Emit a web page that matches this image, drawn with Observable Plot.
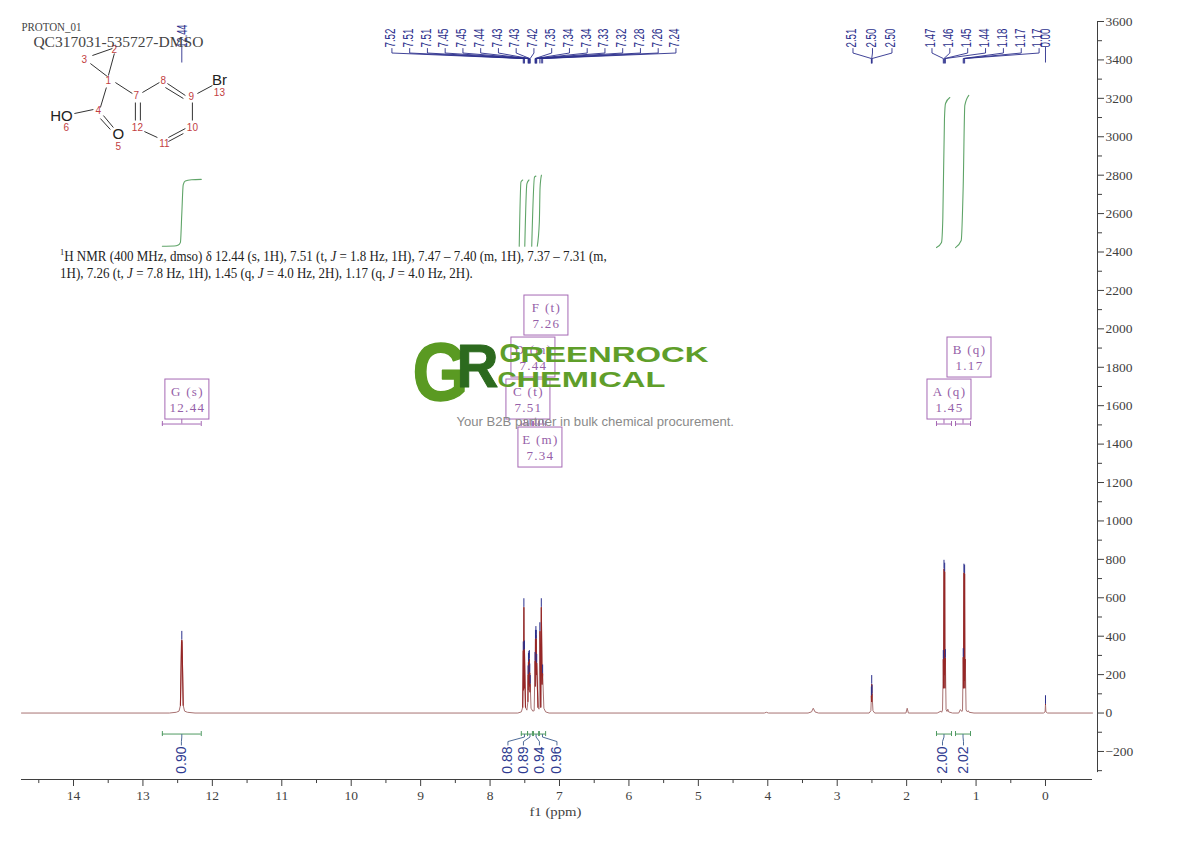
<!DOCTYPE html>
<html><head><meta charset="utf-8">
<script src="https://cdn.jsdelivr.net/npm/d3@7"></script>
<script src="https://cdn.jsdelivr.net/npm/@observablehq/plot@0.6"></script>
<style>
html,body{margin:0;padding:0;background:#fff}
#wrap{position:relative;width:1190px;height:841px;overflow:hidden}
#assign{position:absolute;left:60px;top:248px;font:14px/17px "Liberation Serif",serif;color:#222;white-space:nowrap;transform:scaleX(.928);transform-origin:left top}
#assign sup{font-size:9px;line-height:0}
</style></head><body>
<div id="wrap"><div id="assign"><sup>1</sup>H NMR (400 MHz, dmso) δ 12.44 (s, 1H), 7.51 (t, <i>J</i> = 1.8 Hz, 1H), 7.47 – 7.40 (m, 1H), 7.37 – 7.31 (m,<br>1H), 7.26 (t, <i>J</i> = 7.8 Hz, 1H), 1.45 (q, <i>J</i> = 4.0 Hz, 2H), 1.17 (q, <i>J</i> = 4.0 Hz, 2H).</div></div>
<script>
// ---------- data ----------
const specPpm = [14.749,12.62,12.52,12.48,12.46,12.444,12.44,12.436,12.42,12.40,12.36,12.25,
  7.60,7.55,7.53,7.522,7.518,7.513,7.509,7.505,7.49,7.47,7.455,7.452,7.45,7.447,7.444,7.441,7.438,7.434,7.431,7.428,7.425,7.422,7.41,7.385,
  7.365,7.352,7.349,7.346,7.343,7.34,7.337,7.334,7.331,7.328,7.31,7.295,7.283,7.278,7.27,7.262,7.25,7.243,7.225,7.20,7.15,
  4.05,4.02,3.99,3.42,3.37,3.345,3.32,3.27,
  2.54,2.515,2.508,2.505,2.503,2.501,2.498,2.485,2.46,2.01,1.992,1.975,
  1.56,1.505,1.495,1.483,1.472,1.468,1.462,1.456,1.452,1.448,1.442,1.432,1.418,1.407,1.395,1.34,
  1.25,1.226,1.205,1.195,1.185,1.181,1.175,1.171,1.165,1.161,1.155,1.144,1.125,1.112,1.10,1.03,
  0.03,0.006,0.0,-0.006,-0.03,-0.677];
const specInt = [0,0,4,10,40,370,380,370,40,10,4,0,
  0,6,30,325,120,550,130,330,30,15,60,200,120,265,150,275,170,280,140,210,110,150,25,10,
  12,270,140,385,230,405,240,385,200,260,30,20,425,250,30,550,150,205,25,6,0,
  0,4,0,0,6,25,6,0,
  0,12,90,60,150,60,100,12,0,0,25,0,
  0,10,4,16,280,130,750,200,735,130,285,18,8,20,6,0,
  0,18,8,16,290,130,730,170,725,130,280,16,6,12,4,0,
  0,6,45,6,0,0];

const pick1Label = ["7.52","7.51","7.51","7.45","7.45","7.44","7.43","7.43","7.42","7.35","7.34","7.34","7.33","7.32","7.28","7.26","7.24"];
const pick1Ppm   = [7.522,7.513,7.505,7.452,7.447,7.441,7.434,7.428,7.422,7.352,7.346,7.34,7.334,7.328,7.283,7.262,7.243];
const pick1Int   = [325,550,330,200,265,275,280,210,150,270,385,405,385,260,425,550,205];
const pick2Label = ["2.51","2.50","2.50"];
const pick2Ppm   = [2.508,2.503,2.498];
const pick2Int   = [90,150,100];
const pick3Label = ["1.47","1.46","1.45","1.44","1.18","1.17","1.17"];
const pick3Ppm   = [1.472,1.462,1.452,1.442,1.185,1.175,1.165];
const pick3Int   = [280,750,735,285,290,730,725];
const soloLabel  = ["12.44","0.00"];
const soloPpm    = [12.44,0.0];
const soloInt    = [380,45];

const regionStart = [12.72,7.55,7.46,7.375,7.29,1.57,1.296];
const regionEnd   = [12.16,7.46,7.39,7.30,7.20,1.354,1.08];
const regionValue = ["0.90","0.88","0.89","0.94","0.96","2.00","2.02"];

const boxName  = ["G (s)","F (t)","D (m)","C (t)","E (m)","A (q)","B (q)"];
const boxShift = ["12.44","7.26","7.44","7.51","7.34","1.45","1.17"];

const integralPpm = [
 [12.72,12.55,12.49,12.46,12.44,12.42,12.39,12.3,12.16],
 [7.58,7.555,7.53],
 [7.50,7.47,7.44],
 [7.40,7.36,7.34],
 [7.32,7.29,7.28,7.26],
 [1.57,1.498,1.479,1.455,1.44,1.378],
 [1.296,1.214,1.185,1.162,1.105]];
const integralVal = [
 [2430,2431,2436,2450,2600,2750,2770,2776,2778],
 [2430,2765,2775],
 [2430,2755,2775],
 [2430,2790,2795],
 [2430,2560,2735,2800],
 [2423,2450,2575,3095,3173,3204],
 [2423,2460,2746,3163,3215]];

const yMajor = d3.range(-200,3601,200);
const yMinor = d3.range(-300,3600,200);
const xMajor = d3.range(0,15,1);
const xMinor = d3.range(0.5,14.6,1);

// ---------- layout helpers: pixel layout -> data units, all marks go through the scales ----------
const ppmAt = px => (1045 - px) / 69.42;
const valAt = py => (712.5 - py) / 0.19209;
const blue = "#2b2f8c", green = "#5fa468", purple = "#a568b4", red = "#962626", ink = "#3f3f3f";

function connectors(ppms, textStart, step){
  return ppms.flatMap((p,i)=>{
    const sx = textStart + i*step + 1.5;
    return [{k:i,x:ppmAt(sx),y:valAt(48)},{k:i,x:ppmAt(sx),y:valAt(52.5)},{k:i,x:p,y:valAt(58)},{k:i,x:p,y:valAt(62.5)}];
  });
}
const conn1 = connectors(pick1Ppm,390,17.75);
const conn2 = connectors(pick2Ppm,851,19.5);
const conn3 = connectors(pick3Ppm,930,17.85);
const topLabels = (labels,start,step)=>labels.map((t,i)=>({t,x:ppmAt(start+i*step)}));
const top4 = [...topLabels(pick1Label,390,17.75),...topLabels(pick2Label,851,19.5),...topLabels(pick3Label,930,17.85),{t:"0.00",x:ppmAt(1045)}];
const allPicks = [...pick1Ppm.map((x,i)=>({x,h:pick1Int[i]})),...pick2Ppm.map((x,i)=>({x,h:pick2Int[i]})),...pick3Ppm.map((x,i)=>({x,h:pick3Int[i]})),...soloPpm.map((x,i)=>({x,h:soloInt[i]}))];

const spectrum = specPpm.map((x,i)=>({x,y:specInt[i]}));
const integrals = integralPpm.flatMap((a,k)=>a.map((x,i)=>({k,x,y:integralVal[k][i]})));
const regions = regionStart.map((a,i)=>({a,b:regionEnd[i],c:(a+regionEnd[i])/2,v:regionValue[i]}));

const slotPx = [181,507.5,523,539,556.5,942,963];
const regConn = regions.flatMap((r,i)=>{
  const s = ppmAt(slotPx[i]);
  return [{k:i,x:r.c,y:valAt(734)},{k:i,x:r.c,y:valAt(736.5)},{k:i,x:s,y:valAt(741)},{k:i,x:s,y:valAt(744.5)}];
});
const regLabels = regions.map((r,i)=>({t:r.v,x:ppmAt(slotPx[i])}));

const boxPx = [[187,399],[546,315],[533,357],[528,399],[540,447],[949,399],[969,357]];
const boxes = boxName.map((n,i)=>({n,s:boxShift[i],cx:boxPx[i][0],cy:boxPx[i][1]}));

// molecule drawing (pixel layout on the page)
const bonds = [[108,75,114,53],[92,55,112,48],[90,63,107,76],[106,87,100,107],[74,113,93,109],[103,115,113,127],[100,118,110,129],
 [115,82,132,93],[142,92,159,82],[167,83,185,95],[165,87,183,98],[192,102,192,120],[185,128,168,137],[183,133,168,141],[157,137,144,131],
 [135,120,135,102],[140,120,140,102],[197,93,212,85]];
const numbers = [["1",108,80],["2",114,49],["3",84,59],["4",98,110],["5",118,146],["6",66,127],["7",136,95],["8",163,80],["9",191,96],["10",192,127],["11",164,143],["12",137,127],["13",219,92]];
const atoms = [["HO",61,116,15],["O",118,134,15],["Br",219,80,15]];

const logo = [
 {t:"G",px:412,py:399.5,size:81,fill:"#5a9a22",len:56,sw:1.5},
 {t:"R",px:456,py:386,size:62,fill:"#2c6a1e",len:42,sw:1},
 {t:"G",px:499,py:361,size:26,fill:"#5f9e2a",len:22,sw:0},
 {t:"REENROCK",px:520,py:361,size:22,fill:"#5f9e2a",len:188,sw:0},
 {t:"C",px:497,py:386,size:22,fill:"#5f9e2a",len:19,sw:0},
 {t:"HEMICAL",px:516,py:386,size:22,fill:"#5f9e2a",len:149,sw:0}
];

const logoMarks = logo.map((d,i)=>Plot.text([d],{x:ppmAt(d.px),y:valAt(d.py),text:"t",fontSize:d.size,fontWeight:"bold",fill:d.fill,
  stroke:d.sw?d.fill:"none",strokeWidth:d.sw,
  fontFamily:"Liberation Sans",textAnchor:"start",lineAnchor:"bottom",className:"logo"+i}));

const chart = Plot.plot({
  width:1190,height:841,
  marginLeft:21,marginRight:93,marginTop:21,marginBottom:62,
  x:{domain:[14.749,-0.677],range:[21,1092]},
  y:{domain:[-346,3600],range:[779,21]},
  style:{fontFamily:"Liberation Serif",background:"transparent",overflow:"visible"},
  marks:[
    // axes
    Plot.ruleY([-346],{x1:14.749,x2:-0.677,stroke:ink,strokeWidth:1}),
    Plot.ruleX([ppmAt(1097)],{y1:-310,y2:3600,stroke:ink,strokeWidth:1}),
    Plot.axisX({ticks:xMajor,anchor:"bottom",label:null,tickSize:7,tickPadding:4,fontSize:13.5,color:ink,tickFormat:d=>String(d)}),
    Plot.ruleX(xMinor,{y1:-346,y2:valAt(783),stroke:ink,strokeWidth:1}),
    Plot.axisY({ticks:yMajor,anchor:"right",label:null,tickSize:6,tickPadding:2,fontSize:13.5,color:ink,tickFormat:d=>d<0?"\u2212"+(-d):String(d)}),
    Plot.ruleY(yMinor,{x1:ppmAt(1097),x2:ppmAt(1102),stroke:ink,strokeWidth:1}),
    Plot.text(["f1 (ppm)"],{x:ppmAt(555),y:valAt(811),fontFamily:"Liberation Serif",fontSize:13,fill:ink,className:"flabel"}),

    // spectrum: pale baseline, darker peak bodies
    Plot.line(spectrum,{x:"x",y:"y",stroke:"#a87272",strokeWidth:1}),
    Plot.line(spectrum,{x:"x",y:d=>d.y>=30?d.y:NaN,stroke:red,strokeWidth:1.1}),
    Plot.ruleX(allPicks,{x:"x",y1:"h",y2:d=>d.h+45,stroke:blue,strokeWidth:1}),

    // peak-pick labels
    Plot.line(conn1,{x:"x",y:"y",z:"k",stroke:blue,strokeWidth:0.9}),
    Plot.line(conn2,{x:"x",y:"y",z:"k",stroke:blue,strokeWidth:0.9}),
    Plot.line(conn3,{x:"x",y:"y",z:"k",stroke:blue,strokeWidth:0.9}),
    Plot.ruleX(soloPpm,{y1:valAt(47),y2:valAt(62.5),stroke:blue,strokeWidth:0.9}),
    Plot.text(top4,{x:"x",y:valAt(47),text:"t",rotate:-90,textAnchor:"start",fontFamily:"Liberation Sans",fontSize:15,fill:blue,className:"pk4"}),
    Plot.text([{t:soloLabel[0]}],{x:soloPpm[0],y:valAt(47),text:"t",rotate:-90,textAnchor:"start",fontFamily:"Liberation Sans",fontSize:15,fill:blue,className:"pk5"}),

    // integral curves
    Plot.line(integrals,{x:"x",y:"y",z:"k",stroke:green,strokeWidth:1.1,curve:"monotone-x"}),

    // integral bars below baseline
    Plot.ruleY(regions,{x1:"a",x2:"b",y:valAt(733.5),stroke:"#4f9a62",strokeWidth:1}),
    Plot.ruleX(regions.flatMap(r=>[r.a,r.b]),{y1:valAt(731),y2:valAt(736),stroke:"#4f9a62",strokeWidth:1}),
    Plot.line(regConn,{x:"x",y:"y",z:"k",stroke:"#3a5a8c",strokeWidth:0.9}),
    Plot.text(regLabels,{x:"x",y:valAt(746),text:"t",rotate:-90,textAnchor:"end",fontFamily:"Liberation Sans",fontSize:14,fill:"#2e3a90"}),

    // multiplet boxes
    Plot.rect(boxes,{x1:d=>ppmAt(d.cx-22),x2:d=>ppmAt(d.cx+22),y1:d=>valAt(d.cy-20),y2:d=>valAt(d.cy+20),fill:"none",stroke:purple,strokeWidth:1}),
    Plot.text(boxes,{x:d=>ppmAt(d.cx),y:d=>valAt(d.cy-8),text:"n",fontFamily:"Liberation Serif",fontSize:13,fill:"#9560a8",className:"boxt"}),
    Plot.text(boxes,{x:d=>ppmAt(d.cx),y:d=>valAt(d.cy+8),text:"s",fontFamily:"Liberation Serif",fontSize:13,fill:"#9560a8",className:"boxt"}),
    Plot.ruleY(regions,{x1:"a",x2:"b",y:valAt(423.5),stroke:purple,strokeWidth:1}),
    Plot.ruleX(regions.flatMap(r=>[r.a,r.b]),{y1:valAt(421),y2:valAt(426),stroke:purple,strokeWidth:1}),
    Plot.ruleX(regions,{x:"c",y1:valAt(419),y2:valAt(423.5),stroke:purple,strokeWidth:1}),

    // molecule
    Plot.link(bonds,{x1:d=>ppmAt(d[0]),y1:d=>valAt(d[1]),x2:d=>ppmAt(d[2]),y2:d=>valAt(d[3]),stroke:"#333",strokeWidth:1}),
    Plot.text(numbers,{x:d=>ppmAt(d[1]),y:d=>valAt(d[2]),text:d=>d[0],fontFamily:"Liberation Sans",fontSize:10,fill:"#c2403f"}),
    Plot.text(atoms,{x:d=>ppmAt(d[1]),y:d=>valAt(d[2]),text:d=>d[0],fontFamily:"Liberation Sans",fontSize:d=>d[3],fill:"#222"}),

    // experiment titles
    Plot.text(["PROTON_01"],{x:ppmAt(21),y:valAt(27),textAnchor:"start",fontFamily:"Liberation Serif",fontSize:12,fill:"#444",className:"t1"}),
    Plot.text(["QC317031-535727-DMSO"],{x:ppmAt(33),y:valAt(42),textAnchor:"start",fontFamily:"Liberation Serif",fontSize:15,fill:"#444",className:"t2"}),

    // watermark
    ...logoMarks,
    Plot.text(["Your B2B partner in bulk chemical procurement."],{x:ppmAt(456),y:valAt(421),textAnchor:"start",fontFamily:"Liberation Sans",fontSize:13.1,fill:"#8a8a8a"})
  ]
});
document.getElementById("wrap").prepend(chart);
const sel = d3.select(chart);
const fit = (cls,len,adj="spacingAndGlyphs")=>sel.selectAll("g."+cls+" text").attr("textLength",len).attr("lengthAdjust",adj);
fit("pk4",19); fit("pk5",23);
fit("t1",60); fit("t2",170); fit("flabel",52);
sel.selectAll("g.boxt text").attr("letter-spacing","1.3px");
logo.forEach((d,i)=>fit("logo"+i,d.len));
</script>
</body></html>
